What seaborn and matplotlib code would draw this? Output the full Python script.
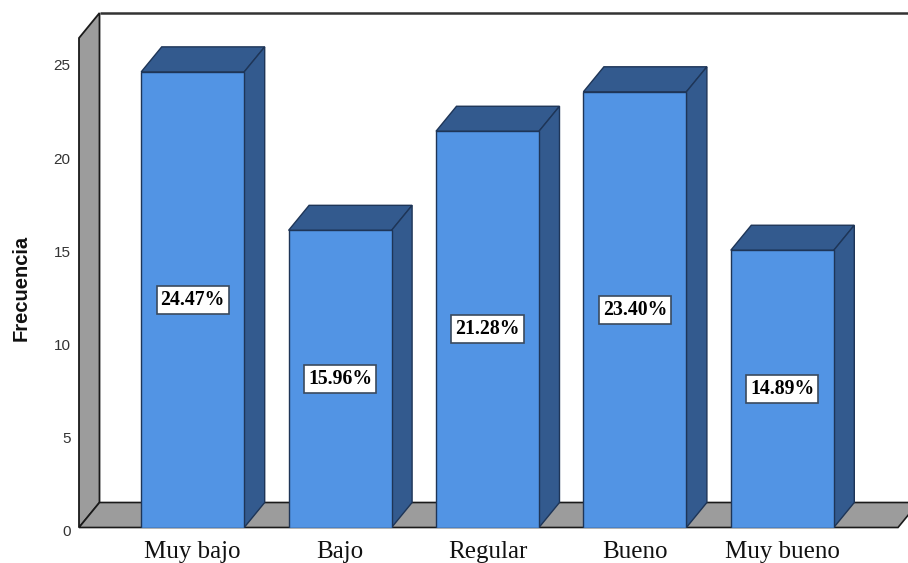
import matplotlib
matplotlib.use("Agg")
import matplotlib.pyplot as plt
from matplotlib.transforms import ScaledTranslation
import seaborn as sns

categories = ["Muy bajo", "Bajo", "Regular", "Bueno", "Muy bueno"]
percentages = [24.47, 15.96, 21.28, 23.40, 14.89]
y_ticks = [0, 5, 10, 15, 20, 25]

FRONT = "#5294E4"
SIDE = "#335A8E"
EDGE = "#1E3557"
WALL = "#9C9C9C"
LINE = "#1A1A1A"

W, H = 908, 563
X0, PX_PER_CAT = 192.7, 147.4      # pixel centre of first bar, spacing between bars
Y0, PX_PER_UNIT = 527.5, 18.62     # pixel row of zero, pixels per y unit
LEFT, TOP = 79, 13
DEPTH_X = 20.5 / PX_PER_CAT        # oblique depth in data units
DEPTH_Y = 25.0 / PX_PER_UNIT
BAR_WIDTH = 103 / PX_PER_CAT

sns.set_theme(style="white")
fig = plt.figure(figsize=(W / 100, H / 100), dpi=100)
ax = fig.add_axes([LEFT / W, 1 - Y0 / H, (W - LEFT) / W, (Y0 - TOP) / H])

sns.barplot(x=categories, y=percentages, ax=ax, color=FRONT, saturation=1,
            width=BAR_WIDTH, edgecolor=EDGE, linewidth=1.0, zorder=4)

ax.set_xlim((LEFT - X0) / PX_PER_CAT, (W - X0) / PX_PER_CAT)
ax.set_ylim(0, (Y0 - TOP) / PX_PER_UNIT)
xl, xr = ax.get_xlim()
yt = ax.get_ylim()[1]
floor_right = xr - 10 / PX_PER_CAT

# Oblique walls and floor of the chart box
ax.fill([xl, xl + DEPTH_X, xl + DEPTH_X, xl],
        [0, DEPTH_Y, yt, yt - DEPTH_Y],
        facecolor=WALL, edgecolor=LINE, linewidth=1.3, zorder=1, clip_on=False)
ax.fill([xl, floor_right, floor_right + DEPTH_X, xl + DEPTH_X],
        [0, 0, DEPTH_Y, DEPTH_Y],
        facecolor=WALL, edgecolor=LINE, linewidth=1.2, zorder=1, clip_on=False)
ax.plot([xl + DEPTH_X, xr], [yt, yt], color="#333333", linewidth=1.8,
        zorder=1, clip_on=False, solid_capstyle="butt")

# Top and side faces of each bar, with its percentage label
half = BAR_WIDTH / 2
for i, v in enumerate(percentages):
    ax.fill([i - half, i + half, i + half + DEPTH_X, i - half + DEPTH_X],
            [v, v, v + DEPTH_Y, v + DEPTH_Y],
            facecolor=SIDE, edgecolor=EDGE, linewidth=1.0, zorder=3)
    ax.fill([i + half, i + half + DEPTH_X, i + half + DEPTH_X, i + half],
            [0, DEPTH_Y, v + DEPTH_Y, v],
            facecolor=SIDE, edgecolor=EDGE, linewidth=1.0, zorder=3)
    ax.text(i, v / 2, f"{v:.2f}%", ha="center", va="center", zorder=6,
            family="Liberation Serif", fontweight="bold", fontsize=14.2,
            color="black",
            bbox=dict(boxstyle="square,pad=0.2", facecolor="white",
                      edgecolor="#3A4A5E", linewidth=1.2))

sns.despine(ax=ax, left=True, bottom=True, top=True, right=True)
ax.patch.set_alpha(0)
ax.grid(False)

# y labels sit slightly below their nominal position
ax.set_yticks(y_ticks)
ax.tick_params(axis="y", length=0, pad=6, labelsize=11, labelcolor="#333333")
shift = ScaledTranslation(0, -3 / 100, fig.dpi_scale_trans)
for lab in ax.get_yticklabels():
    lab.set_family("Liberation Sans")
    lab.set_transform(lab.get_transform() + shift)
ax.tick_params(axis="x", length=0, pad=9.5, labelsize=18, labelcolor="#111111")
for lab in ax.get_xticklabels():
    lab.set_family("Liberation Serif")

fig.text(21 / W, 1 - 288 / H, "Frecuencia", rotation=90, ha="center", va="center",
         family="Liberation Sans", fontweight="bold", fontsize=14.5, color="#111111")
ax.set_ylabel("")
ax.set_xlabel("")

fig.savefig("out.png", dpi=100, facecolor="white")
